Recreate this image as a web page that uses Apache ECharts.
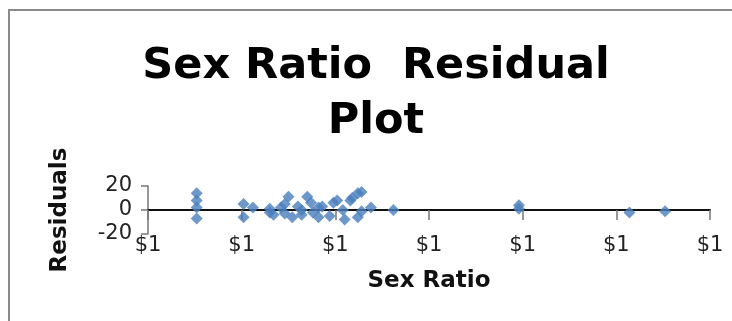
<!DOCTYPE html>
<html>
<head>
<meta charset="utf-8">
<script src="https://cdn.jsdelivr.net/npm/echarts@6/dist/echarts.min.js"></script>
<style>
  html, body { margin: 0; padding: 0; background: #fff; }
  #chart { width: 732px; height: 321px; }
</style>
</head>
<body>
<div id="chart"></div>
<script>
// Sex ratio (x) and the regression residual at each observation (y)
const sexRatio = [
  0.926, 0.926, 0.926, 0.926,
  0.951, 0.951, 0.956,
  0.965, 0.965, 0.967, 0.971,
  0.973, 0.973, 0.975, 0.977, 0.980,
  0.982, 0.982, 0.985, 0.987, 0.988,
  0.991, 0.991, 0.993, 0.997, 0.999,
  1.001, 1.004, 1.005, 1.008, 1.009,
  1.012, 1.012, 1.014, 1.014, 1.019,
  1.031, 1.098, 1.098, 1.157, 1.176
];
const residuals = [
  14, 8, 2, -7,
  5, -6, 2,
  -2, 1, -4, 2,
  5, -3, 11, -6, 3,
  -4, 0, 11, 6, -2,
  -6, 2, 3, -5, 6,
  8, 0, -8, 8, 10,
  14, -6, 15, -1, 2,
  0, 4, 1, -2, -1
];

// Axis ranges and tick spacing
const xMin = 0.9, xMax = 1.2, xStep = 0.05;
const yMin = -20, yMax = 20, yStep = 20;

const points = sexRatio.map((x, i) => [x, residuals[i]]);
const font = 'DejaVu Sans, Verdana, sans-serif';

const chart = echarts.init(document.getElementById('chart'), null, { renderer: 'canvas' });
chart.setOption({
  animation: false,
  backgroundColor: '#ffffff',
  title: {
    text: 'Sex Ratio  Residual\nPlot',
    left: 371,
    top: 34,
    textAlign: 'center',
    textStyle: {
      fontFamily: font,
      fontWeight: 'bold',
      fontSize: 43,
      lineHeight: 55,
      color: '#000'
    }
  },
  graphic: [{
    type: 'rect',
    shape: { x: 9, y: 10, width: 800, height: 400 },
    style: { fill: 'none', stroke: '#8a8a8a', lineWidth: 2 },
    silent: true
  }],
  grid: { left: 148, right: 22, top: 186, bottom: 87 },
  xAxis: {
    type: 'value',
    min: xMin, max: xMax, interval: xStep,
    name: 'Sex Ratio',
    nameLocation: 'middle',
    nameGap: 36,
    nameTextStyle: { fontFamily: font, fontWeight: 'bold', fontSize: 23, color: '#111' },
    axisLine: { show: true, onZero: true, lineStyle: { color: '#111', width: 2 } },
    axisTick: { show: true, length: 10, lineStyle: { color: '#777', width: 1.5 } },
    axisLabel: {
      margin: 1,
      fontFamily: font, fontSize: 21, color: '#222',
      formatter: v => '$' + Math.round(v)
    },
    splitLine: { show: false }
  },
  yAxis: {
    type: 'value',
    min: yMin, max: yMax, interval: yStep,
    name: 'Residuals',
    nameLocation: 'middle',
    nameGap: 76,
    nameRotate: 90,
    nameTextStyle: { fontFamily: font, fontWeight: 'bold', fontSize: 23, color: '#111' },
    axisLine: { show: true, onZero: false, lineStyle: { color: '#777', width: 1.5 } },
    axisTick: { show: true, length: 7, lineStyle: { color: '#777', width: 1.5 } },
    axisLabel: { margin: 16, fontFamily: font, fontSize: 21, color: '#222' },
    splitLine: { show: false }
  },
  series: [{
    type: 'scatter',
    data: points,
    symbol: 'diamond',
    symbolSize: 12,
    itemStyle: { color: '#4a7ebb' }
  }]
});
</script>
</body>
</html>
